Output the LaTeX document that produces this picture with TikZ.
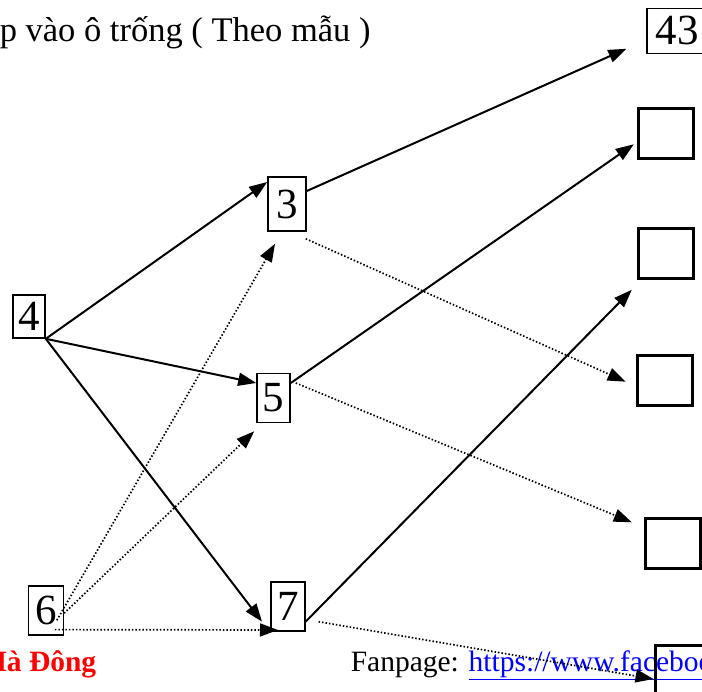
\documentclass[tikz,border=0pt]{standalone}
\usepackage{fontspec}
\setmainfont{Liberation Serif}
\usetikzlibrary{arrows.meta, calc, positioning}
\definecolor{link blue}{HTML}{0000FF}
\definecolor{place red}{HTML}{FF0000}

\begin{document}
\begin{tikzpicture}[x=1pt, y=1pt, line width=1.5pt,
    numbox/.style={draw, line width=1.6pt, inner sep=0pt, font=\fontsize{43}{43}\selectfont},
    emptybox/.style={draw, line width=3pt, minimum width=55pt, minimum height=50pt},
    arr/.style={-{Triangle[length=18pt,width=13pt]}, line width=2pt},
    dotarr/.style={arr, line width=1.7pt, dash pattern=on 1.5pt off 2pt}]
    \useasboundingbox (0,0) rectangle (702,-692);
    \clip (0,0) rectangle (702,-692);

    % texts
    \node[anchor=base west, inner sep=0pt, font=\fontsize{34.5}{35}\selectfont] (title) at (-1,-41.7) {p vào ô trống ( Theo mẫu )};
    \node[anchor=base east, inner sep=0pt, text=place red, font=\fontsize{29.5}{30}\selectfont\bfseries] (place) at (97,-671.5) {Hà Đông};
    \node[anchor=base west, inner sep=0pt, font=\fontsize{29.5}{30}\selectfont] (fanpage) at (350,-671.5) {Fanpage: \textcolor{link blue}{\underline{https://www.facebook.com}}};

    % numbered boxes
    \node[numbox, minimum width=32pt, minimum height=43pt] (b4) at (29,-316.5) {4};
    \node[numbox, minimum width=38pt, minimum height=54pt] (b3) at (287,-204) {3};
    \node[numbox, minimum width=33pt, minimum height=49pt] (b5) at (273.5,-398) {5};
    \node[numbox, minimum width=35pt, minimum height=49pt] (b6) at (45.8,-610.3) {6};
    \node[numbox, minimum width=34pt, minimum height=49pt] (b7) at (287.8,-606.7) {7};
    \node[numbox, line width=1.3pt, minimum width=60pt, minimum height=45pt] (b43) at (677,-30.8) {43};

    % empty boxes
    \foreach \name/\x/\y in {e1/665.8/-133.3, e2/665.8/-253.3, e3/664.7/-380.7, e4/672.8/-543.8, e5/682.5/-670}{
	\node[emptybox] (\name) at (\x,\y) {};
	};

    \draw[arr] (b4.south east) -- ([yshift=22pt]b3.west);
    \draw[arr] (b4.south east) -- ([yshift=15pt]b5.west);
    \draw[arr] (b4.south east) -- ([shift={(-8pt,-15pt)}]b7.west);
    \draw[arr] ([yshift=13pt]b3.east) -- ([shift={(-20pt,-18pt)}]b43.west);
    \draw[arr] ([yshift=15pt]b5.east) -- ([shift={(-3pt,-11pt)}]e1.west);
    \draw[arr] ([yshift=-15pt]b7.east) -- ([shift={(-5pt,-10pt)}]e2.south west);

    \draw[dotarr] ([shift={(11pt,-10pt)}]b6.center) -- ([shift={(-12pt,-12pt)}]b3.south);
    \draw[dotarr] ([yshift=-3pt]b6.east) -- ([shift={(-2pt,-8pt)}]b5.south west);
    \draw[dotarr] ([shift={(9pt,6pt)}]b6.south) -- ([shift={(8pt,2pt)}]b7.south west);
    \draw[dotarr] ([shift={(-1pt,-7pt)}]b3.south east) -- ([shift={(-10pt,-1pt)}]e3.west);
    \draw[dotarr] ([shift={(5pt,15pt)}]b5.east) -- ([shift={(-12pt,-5pt)}]e4.north west);
    \draw[dotarr] ([shift={(13pt,-15pt)}]b7.east) -- ([yshift=-9pt]e5.west);
\end{tikzpicture}
\end{document}
